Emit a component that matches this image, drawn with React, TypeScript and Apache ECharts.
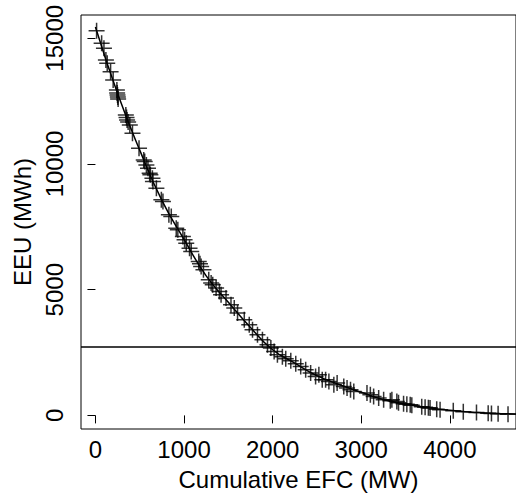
import React, { useEffect, useRef } from "react";
import * as echarts from "echarts";

const xTicks = [0, 1000, 2000, 3000, 4000];
const yTicks = [0, 5000, 10000, 15000];

const efc = [
  13, 70, 96, 118, 133, 171, 200, 242, 245, 249, 253, 256, 343, 351, 357, 369, 388, 418, 492, 545,
  556, 575, 593, 612, 620, 643, 649, 688, 744, 762, 829, 856, 912, 930, 987, 1006, 1025, 1062, 1081, 1166,
  1180, 1193, 1219, 1279, 1306, 1324, 1362, 1399, 1418, 1474, 1530, 1567, 1604, 1680, 1736, 1773, 1829, 1885, 1942, 1980,
  2017, 2054, 2110, 2148, 2205, 2261, 2317, 2373, 2429, 2485, 2522, 2560, 2598, 2635, 2691, 2728, 2803, 2840, 2879, 2916,
  3065, 3103, 3140, 3197, 3253, 3328, 3346, 3402, 3421, 3478, 3515, 3553, 3571, 3683, 3721, 3758, 3777, 3852, 3890, 4039,
  4152, 4301, 4433, 4470, 4545, 4657,
];
const eeu = [
  15300, 14800, 14600, 14138, 14006, 13673, 13343, 12945, 12826, 12747, 12667, 12588, 11952, 11852, 11753, 11673, 11554, 11224, 10628, 10163,
  10095, 9964, 9833, 9634, 9567, 9436, 9301, 9038, 8573, 8506, 7977, 7909, 7448, 7381, 7115, 6983, 6852, 6653, 6518, 6121,
  6029, 5922, 5791, 5394, 5262, 5195, 5064, 4928, 4797, 4666, 4400, 4269, 4070, 3804, 3605, 3406, 3208, 3009, 2810, 2679,
  2544, 2413, 2333, 2254, 2174, 2055, 1948, 1816, 1685, 1550, 1618, 1419, 1419, 1351, 1220, 1288, 1153, 1089, 1021, 954,
  890, 823, 755, 692, 624, 584, 624, 556, 505, 465, 445, 425, 405, 346, 326, 306, 294, 246, 227, 187,
  147, 119, 87, 80, 68, 48,
];

const fitX = [0, 250, 500, 750, 1000, 1250, 1500, 1750, 2000, 2250, 2500, 2750, 3000, 3250, 3500, 3750, 4000, 4250, 4500, 4747];
const fitY = [15450, 12800, 10550, 8550, 7000, 5550, 4500, 3500, 2610, 2080, 1580, 1230, 920, 630, 450, 310, 200, 130, 78, 60];

const threshold = 2742;

const FONT = "Liberation Sans, Arial, Helvetica, sans-serif";

export default function App() {
  const ref = useRef<HTMLDivElement>(null);
  useEffect(() => {
    if (!ref.current) return;
    const chart = echarts.init(ref.current, null, { renderer: "svg" });
    const pts = efc.map((x, i) => [x, eeu[i]]);
    const fit = fitX.map((x, i) => [x, fitY[i]]);
    const plain = (v: number) => String(v);
    chart.setOption({
      animation: false,
      backgroundColor: "#ffffff",
      grid: {
        left: 81,
        top: 15,
        right: -2,
        bottom: 71,
        show: true,
        borderColor: "#000",
        borderWidth: 1,
        backgroundColor: "transparent",
      },
      xAxis: {
        type: "value",
        min: -163,
        max: 4747,
        name: "Cumulative EFC (MW)",
        nameLocation: "middle",
        nameGap: 38,
        nameTextStyle: { fontFamily: FONT, fontSize: 24, color: "#000" },
        axisLine: { show: false },
        splitLine: { show: false },
        axisTick: { show: true, length: 8, customValues: xTicks, lineStyle: { color: "#000", width: 1 } },
        axisLabel: { customValues: xTicks, formatter: plain, fontFamily: FONT, fontSize: 24, color: "#000", margin: 8 },
      },
      yAxis: {
        type: "value",
        min: -541,
        max: 15926,
        name: "EEU (MWh)",
        nameLocation: "middle",
        nameGap: 47,
        nameTextStyle: { fontFamily: FONT, fontSize: 24, color: "#000" },
        axisLine: { show: false },
        splitLine: { show: false },
        axisTick: { show: true, length: 8, customValues: yTicks, lineStyle: { color: "#000", width: 1 } },
        axisLabel: { customValues: yTicks, formatter: plain, rotate: 90, fontFamily: FONT, fontSize: 24, color: "#000", margin: 15 },
      },
      series: [
        {
          type: "line",
          data: fit,
          smooth: true,
          symbol: "none",
          lineStyle: { color: "#000", width: 1.5 },
          markLine: {
            silent: true,
            symbol: "none",
            label: { show: false },
            lineStyle: { color: "#000", width: 1.5, type: "solid" },
            data: [{ yAxis: threshold }],
          },
          z: 2,
        },
        {
          type: "scatter",
          data: pts,
          symbol: "path://M8,0V16M0,8H16",
          symbolSize: 16,
          itemStyle: { color: "none", borderColor: "#000", borderWidth: 1.5 },
          z: 3,
        },
      ],
    });
    return () => chart.dispose();
  }, []);
  return <div ref={ref} style={{ position: "fixed", left: 0, top: 0, width: 516, height: 500 }} />;
}
